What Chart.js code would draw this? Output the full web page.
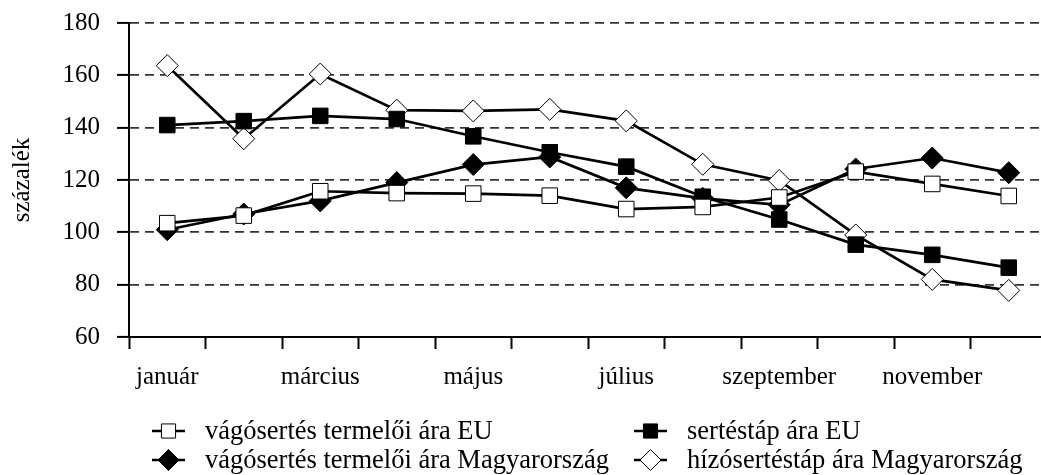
<!DOCTYPE html>
<html>
<head>
<meta charset="utf-8">
<script src="https://cdn.jsdelivr.net/npm/chart.js@4/dist/chart.umd.min.js"></script>
<style>
  html, body { margin: 0; padding: 0; background: #fff; overflow: hidden; }
  #wrap { width: 1047px; height: 475px; }
</style>
</head>
<body>
<div id="wrap"><canvas id="myChart" width="1047" height="475"></canvas></div>
<script>

    // data
    const months = ['január', 'február', 'március', 'április', 'május', 'június',
        'július', 'augusztus', 'szeptember', 'október', 'november', 'december'];
    const yTicks = [60, 80, 100, 120, 140, 160, 180];

    const vagoEU = [103.5, 106.4, 115.7, 115, 114.8, 114, 108.9, 109.7, 113.3, 123.2, 118.5, 113.9];
    const tapEU = [141, 142.5, 144.5, 143.3, 136.7, 130.6, 125.1, 113.6, 104.9, 95.3, 91.4, 86.5];
    const vagoHU = [101, 107, 112, 119, 125.9, 128.8, 117, 113, 110.5, 124.2, 128.4, 122.8];
    const hizoHU = [163.7, 135.8, 160.5, 146.7, 146.4, 147, 142.6, 126, 119.8, 99, 82, 77.8];

    const seriesNames = [
        'vágósertés termelői ára EU',
        'sertéstáp ára EU',
        'vágósertés termelői ára Magyarország',
        'hízósertéstáp ára Magyarország'
    ];

    const FONT = '"Liberation Serif", "Times New Roman", serif';

    function series(label, data, style, fill) {
        return {
            label: label,
            data: data,
            borderColor: '#000',
            borderWidth: 2.7,
            pointStyle: style,
            pointRadius: 11,
            pointHoverRadius: 11,
            pointBorderWidth: 1,
            pointBorderColor: '#000',
            pointBackgroundColor: fill,
            backgroundColor: fill,
            tension: 0,
            fill: false
        };
    }

    function marker(ctx, x, y, style, fill, r) {
        ctx.beginPath();
        if (style === 'rect') {
            const s = r * Math.SQRT1_2;
            ctx.rect(x - s, y - s, 2 * s, 2 * s);
        } else {
            ctx.moveTo(x, y - r);
            ctx.lineTo(x + r, y);
            ctx.lineTo(x, y + r);
            ctx.lineTo(x - r, y);
            ctx.closePath();
        }
        ctx.fillStyle = fill;
        ctx.fill();
        ctx.lineWidth = 1;
        ctx.strokeStyle = '#000';
        ctx.stroke();
    }

    // two-column legend under the plot
    const legendGrid = {
        id: 'legendGrid',
        afterDraw(chart) {
            const ctx = chart.ctx;
            const cols = [152, 634];
            const rows = [431, 460];
            ctx.save();
            chart.data.datasets.forEach((ds, i) => {
                const x = cols[i % 2];
                const y = rows[Math.floor(i / 2)];
                ctx.beginPath();
                ctx.moveTo(x, y);
                ctx.lineTo(x + 33, y);
                ctx.lineWidth = 2.7;
                ctx.strokeStyle = '#000';
                ctx.stroke();
                marker(ctx, x + 16.5, y, ds.pointStyle, ds.pointBackgroundColor,
                    ds.pointStyle === 'rect' ? 10 : 10.5);
                ctx.fillStyle = '#000';
                ctx.font = '26.5px ' + FONT;
                ctx.textBaseline = 'middle';
                ctx.textAlign = 'left';
                ctx.fillText(ds.label, x + 53, y + 1);
            });
            ctx.restore();
        }
    };

    const config = {
        type: 'line',
        data: {
            labels: months,
            datasets: [
                series(seriesNames[0], vagoEU, 'rect', '#fff'),
                series(seriesNames[1], tapEU, 'rect', '#000'),
                series(seriesNames[2], vagoHU, 'rectRot', '#000'),
                series(seriesNames[3], hizoHU, 'rectRot', '#fff')
            ]
        },
        options: {
            responsive: false,
            animation: false,
            layout: {
                autoPadding: false,
                padding: { top: 23, right: 0, bottom: 78, left: 0 }
            },
            scales: {
                x: {
                    offset: true,
                    afterFit(scale) {
                        scale.height = 60;
                        scale.paddingLeft = 0;
                        scale.paddingRight = 0;
                    },
                    grid: {
                        offset: true,
                        drawOnChartArea: false,
                        drawTicks: true,
                        tickLength: 12,
                        tickColor: '#000',
                        tickWidth: 2
                    },
                    border: { color: '#000', width: 2 },
                    ticks: {
                        autoSkip: false,
                        maxRotation: 0,
                        padding: 13,
                        color: '#000',
                        font: { family: FONT, size: 25 },
                        callback: function (v, i) { return i % 2 === 0 ? months[i] : ''; }
                    }
                },
                y: {
                    min: 60,
                    max: 180,
                    afterFit(scale) {
                        scale.width = 129;
                        scale.paddingTop = 0;
                        scale.paddingBottom = 0;
                    },
                    afterBuildTicks(scale) { scale.ticks = yTicks.map(v => ({ value: v })); },
                    grid: {
                        color: '#333',
                        lineWidth: 1.8,
                        tickBorderDash: [],
                        tickColor: '#000',
                        tickWidth: 2,
                        tickLength: 12
                    },
                    // in v4 the grid line dash is read from border.dash
                    border: { color: '#000', width: 2, dash: [9, 6] },
                    ticks: {
                        padding: 17,
                        color: '#000',
                        font: { family: FONT, size: 25 }
                    },
                    title: {
                        display: true,
                        text: 'százalék',
                        color: '#000',
                        padding: { top: 7, bottom: 0 },
                        font: { family: FONT, size: 25, weight: 'normal' }
                    }
                }
            },
            plugins: {
                legend: { display: false },
                tooltip: { enabled: false }
            }
        },
        plugins: [legendGrid]
    };

    const ctx = document.getElementById('myChart');

    new Chart(ctx, config);
</script>
</body>
</html>
